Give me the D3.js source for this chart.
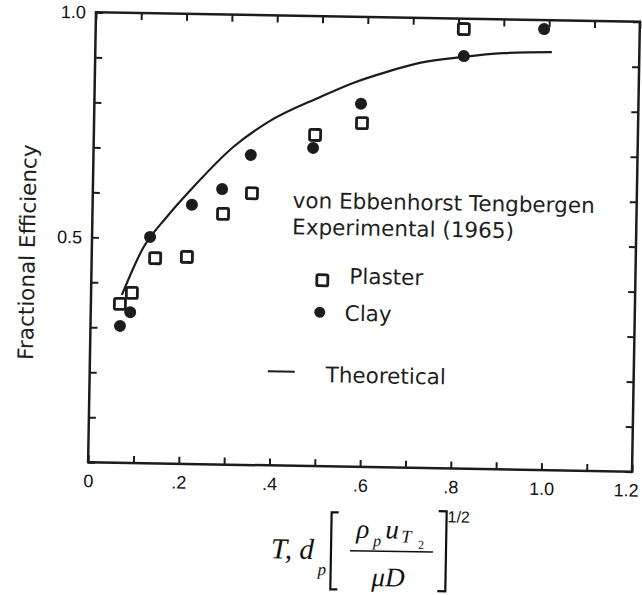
<!DOCTYPE html>
<html>
<head>
<meta charset="utf-8">
<script src="https://cdnjs.cloudflare.com/ajax/libs/d3/7.8.5/d3.min.js"></script>
<style>
body { margin: 0; background: #fff; }
svg { display: block; font-family: "DejaVu Sans", sans-serif; }
.axis text { font-size: 18px; fill: #111; }
.axis line { stroke: #1c1c1c; stroke-width: 2; }
</style>
</head>
<body>
<div id="chart"></div>
<script>
// values
const plasterX = [0.064, 0.090, 0.140, 0.210, 0.288, 0.351, 0.488, 0.591, 0.812];
const plasterY = [0.353, 0.378, 0.456, 0.460, 0.557, 0.604, 0.736, 0.764, 0.977];
const clayX = [0.065, 0.087, 0.128, 0.219, 0.285, 0.347, 0.484, 0.588, 0.813, 0.989];
const clayY = [0.304, 0.335, 0.503, 0.576, 0.612, 0.689, 0.707, 0.807, 0.917, 0.980];
const theoryX = [0.068, 0.113, 0.164, 0.221, 0.308, 0.381, 0.497, 0.570, 0.644, 0.716, 0.811, 0.899, 1.007];
const theoryY = [0.373, 0.478, 0.548, 0.615, 0.706, 0.761, 0.820, 0.853, 0.879, 0.900, 0.915, 0.925, 0.929];

const xLabelVals = [0, 0.2, 0.4, 0.6, 0.8, 1.0, 1.2];
const xLabelText = ["0", ".2", ".4", ".6", ".8", "1.0", "1.2"];
const yLabelVals = [0.5, 1.0];
const yLabelText = ["0.5", "1.0"];
const minorTicksX = d3.range(0, 13).map(i => i / 10);
const minorTicksY = d3.range(0, 11).map(i => i / 10);

const W = 642, H = 595;
const box = { left: 92, right: 636, top: 17, bottom: 467 };
const ink = "#1c1c1c";

const svg = d3.select("#chart")
    .append("svg")
    .attr("width", W)
    .attr("height", H);

// the scan is turned about one degree clockwise
const g = svg.append("g")
    .attr("transform", `rotate(1, ${(box.left + box.right) / 2}, ${(box.top + box.bottom) / 2})`);

const x = d3.scaleLinear().domain([0, 1.2]).range([box.left, box.right]);
const y = d3.scaleLinear().domain([0, 1]).range([box.bottom, box.top]);

const fmt = (vals, texts) => d => {
    const i = vals.findIndex(v => Math.abs(v - d) < 1e-6);
    return i < 0 ? "" : texts[i];
};

const xAxis = g.append("g")
    .attr("class", "axis")
    .attr("transform", `translate(0,${box.bottom})`)
    .call(d3.axisBottom(x).tickValues(minorTicksX).tickSize(-7).tickPadding(12)
        .tickFormat(fmt(xLabelVals, xLabelText)))
    .call(a => a.select(".domain").remove());
// last label sits against the page edge
xAxis.selectAll(".tick text").filter(d => d > 1.15).attr("dx", "-6");

g.append("g")
    .attr("class", "axis")
    .attr("transform", `translate(0,${box.top})`)
    .call(d3.axisTop(x).tickValues(minorTicksX).tickSize(-7).tickFormat(""))
    .call(a => a.select(".domain").remove());

g.append("g")
    .attr("class", "axis")
    .attr("transform", `translate(${box.left},0)`)
    .call(d3.axisLeft(y).tickValues(minorTicksY).tickSize(-7).tickPadding(10)
        .tickFormat(fmt(yLabelVals, yLabelText)))
    .call(a => a.select(".domain").remove());

g.append("g")
    .attr("class", "axis")
    .attr("transform", `translate(${box.right},0)`)
    .call(d3.axisRight(y).tickValues(minorTicksY).tickSize(-7).tickFormat(""))
    .call(a => a.select(".domain").remove());

g.append("rect")
    .attr("x", box.left)
    .attr("y", box.top)
    .attr("width", box.right - box.left)
    .attr("height", box.bottom - box.top)
    .attr("fill", "none")
    .attr("stroke", ink)
    .attr("stroke-width", 2.5);

// theoretical curve
const theory = theoryX.map((v, i) => [v, theoryY[i]]);
g.append("path")
    .datum(theory)
    .attr("fill", "none")
    .attr("stroke", ink)
    .attr("stroke-width", 2.2)
    .attr("d", d3.line().x(d => x(d[0])).y(d => y(d[1])).curve(d3.curveMonotoneX));

// clay: filled circles
g.selectAll(".clay")
    .data(clayX.map((v, i) => [v, clayY[i]]))
    .join("circle")
    .attr("class", "clay")
    .attr("cx", d => x(d[0]))
    .attr("cy", d => y(d[1]))
    .attr("r", 6)
    .attr("fill", ink);

// plaster: open squares
const sq = 11;
g.selectAll(".plaster")
    .data(plasterX.map((v, i) => [v, plasterY[i]]))
    .join("rect")
    .attr("class", "plaster")
    .attr("x", d => x(d[0]) - sq / 2)
    .attr("y", d => y(d[1]) - sq / 2)
    .attr("width", sq)
    .attr("height", sq)
    .attr("rx", 1.5)
    .attr("fill", "#fff")
    .attr("stroke", ink)
    .attr("stroke-width", 2.8);

// legend
const legend = g.append("g").attr("fill", "#1e1e1e").style("font-size", "21.5px");
legend.append("text").attr("x", 292).attr("y", 209).text("von Ebbenhorst Tengbergen");
legend.append("text").attr("x", 292).attr("y", 235.5).text("Experimental (1965)");
legend.append("rect")
    .attr("x", 323 - sq / 2).attr("y", 281 - sq / 2)
    .attr("width", sq).attr("height", sq).attr("rx", 1.5)
    .attr("fill", "#fff").attr("stroke", ink).attr("stroke-width", 2.8);
legend.append("text").attr("x", 350).attr("y", 284).text("Plaster");
legend.append("circle").attr("cx", 321).attr("cy", 313).attr("r", 5.5).attr("fill", ink);
legend.append("text").attr("x", 346).attr("y", 321).text("Clay");
legend.append("line")
    .attr("x1", 270).attr("x2", 297).attr("y1", 373).attr("y2", 373)
    .attr("stroke", ink).attr("stroke-width", 2);
legend.append("text").attr("x", 328).attr("y", 383).text("Theoretical");

// y axis title
g.append("text")
    .attr("transform", "translate(35,258) rotate(-90)")
    .attr("text-anchor", "middle")
    .attr("fill", "#1e1e1e")
    .style("font-size", "21.5px")
    .text("Fractional Efficiency");

// x axis title: T, d_p [ rho_p u_T2 / mu D ]^(1/2)
const m = svg.append("g")
    .attr("transform", "rotate(1, 370, 550)")
    .attr("fill", "#111")
    .style("font-family", "'Liberation Serif', 'DejaVu Serif', serif");

m.append("text").attr("x", 271).attr("y", 560)
    .style("font-size", "29px").style("font-style", "italic").text("T, d");
m.append("text").attr("x", 318).attr("y", 576)
    .style("font-size", "17px").style("font-style", "italic").text("p");
m.append("path")
    .attr("d", "M338,513 H331 V590 H338")
    .attr("fill", "none").attr("stroke", "#111").attr("stroke-width", 2.2);
m.append("path")
    .attr("d", "M438,510 H446 V590 H438")
    .attr("fill", "none").attr("stroke", "#111").attr("stroke-width", 2.2);
m.append("text").attr("x", 356).attr("y", 538)
    .style("font-size", "27px").style("font-style", "italic").text("ρ");
m.append("text").attr("x", 373).attr("y", 546)
    .style("font-size", "16px").style("font-style", "italic").text("p");
m.append("text").attr("x", 385).attr("y", 538)
    .style("font-size", "27px").style("font-style", "italic").text("u");
m.append("text").attr("x", 401).attr("y", 542)
    .style("font-size", "18px").style("font-style", "italic").text("T");
m.append("text").attr("x", 418).attr("y", 548)
    .style("font-size", "12px").text("2");
m.append("line")
    .attr("x1", 350).attr("x2", 433).attr("y1", 551).attr("y2", 551)
    .attr("stroke", "#111").attr("stroke-width", 1.5);
m.append("text").attr("x", 372).attr("y", 586)
    .style("font-size", "27px").style("font-style", "italic").text("μD");
m.append("text").attr("x", 447).attr("y", 521)
    .style("font-family", "'Liberation Sans', sans-serif")
    .style("font-size", "16px").text("1/2");
</script>
</body>
</html>
